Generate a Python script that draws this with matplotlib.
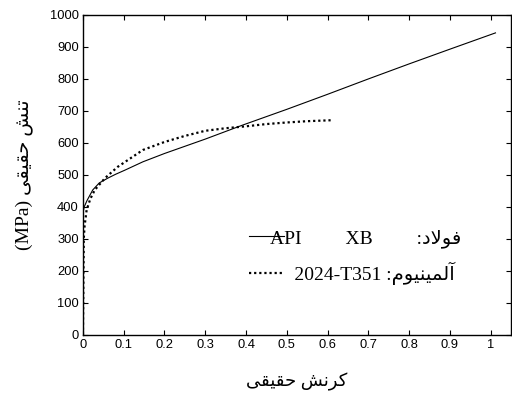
import matplotlib
matplotlib.use('Agg')
import matplotlib.pyplot as plt
from matplotlib.font_manager import FontProperties
from matplotlib.lines import Line2D

# steel API XB (solid)
steel_strain = [0, 0, 0.003, 0.01, 0.024, 0.04, 0.061, 0.08, 0.103, 0.147, 0.2, 0.3, 0.39, 0.5, 0.6, 0.7, 0.8, 0.9, 1.012]
steel_stress = [0, 380, 400, 420, 453, 475, 490, 502, 515, 541, 567, 612, 655, 705, 752, 800, 847, 893, 944]

# aluminium 2024-T351 (dotted)
alu_strain = [0, 0.002, 0.004, 0.009, 0.018, 0.029, 0.054, 0.085, 0.12, 0.147, 0.2, 0.25, 0.3, 0.35, 0.4, 0.45, 0.5, 0.55, 0.61]
alu_stress = [0, 300, 340, 390, 425, 453, 490, 525, 555, 578, 603, 622, 638, 646, 652, 659, 664, 668, 671]

# persian words, pre-shaped with presentation forms, in visual (left-to-right) order
w_tanesh = '\uFEB6\uFEE8\uFE97'                   # تنش
w_haghighi = '\uFEF0\uFED8\uFEF4\uFED8\uFEA3'     # حقیقی
w_kornesh = '\uFEB6\uFEE7\uFEAE\uFEDB'            # کرنش
w_foolad = '\uFEA9\uFEFB\uFEEE\uFED3'             # فولاد
w_aluminium = '\uFEE1\uFEEE\uFEF4\uFEE8\uFEF4\uFEE4\uFEDF\uFE81'  # آلمینیوم

xlabel = w_haghighi + ' ' + w_kornesh
ylabel = '(MPa) ' + w_haghighi + ' ' + w_tanesh
label_steel = 'API         XB         :' + w_foolad
label_alu = '     2024-T351 :' + w_aluminium

mixed = ['Liberation Serif', 'DejaVu Sans']

fig = plt.figure(figsize=(5.12, 3.94), dpi=100)
ax = fig.add_axes([0.162, 0.150, 0.836, 0.812])

ax.plot(steel_strain, steel_stress, color='black', lw=0.8)
ax.plot(alu_strain, alu_stress, color='black', lw=1.6, linestyle=(0, (1, 1.3)))

ax.set_xlim(0, 1.05)
ax.set_ylim(0, 1000)
ax.set_xticks([0, 0.1, 0.2, 0.3, 0.4, 0.5, 0.6, 0.7, 0.8, 0.9, 1])
ax.set_xticklabels(['0', '0.1', '0.2', '0.3', '0.4', '0.5', '0.6', '0.7', '0.8', '0.9', '1'])
ax.set_yticks(range(0, 1001, 100))
ax.tick_params(direction='in', top=True, right=True, length=3.5, width=0.8,
               labelsize=9.3, pad=3)
for lab in ax.get_xticklabels() + ax.get_yticklabels():
    lab.set_family('Liberation Sans')
for s in ax.spines.values():
    s.set_linewidth(1.0)

ax.set_xlabel(xlabel, family=mixed, fontsize=13, labelpad=16)
ax.set_ylabel(ylabel, family=mixed, fontsize=14, labelpad=12)

handles = [Line2D([], [], color='black', lw=0.8),
           Line2D([], [], color='black', lw=1.6, linestyle=(0, (1, 1.3)))]
ax.legend(handles, [label_steel, label_alu], prop=FontProperties(family=mixed, size=14),
          frameon=False, handlelength=1.8, handletextpad=-0.75, labelspacing=0.72,
          loc='upper left', bbox_to_anchor=(0.37, 0.355), borderaxespad=0)

fig.savefig('out.png', dpi=100)
